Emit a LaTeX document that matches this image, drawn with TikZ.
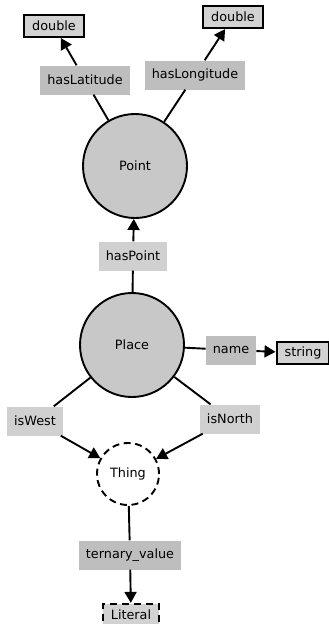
\documentclass[tikz,border=0pt]{standalone}
\usepackage{fontspec}
\setmainfont{DejaVu Sans}
\usepackage{tikz}
\usetikzlibrary{arrows.meta}
\definecolor{clsgray}{RGB}{200,200,200}
\definecolor{propdark}{RGB}{190,190,190}
\definecolor{proplight}{RGB}{208,208,208}
\definecolor{typegray}{RGB}{210,210,210}

\tikzset{
  cls/.style={circle,draw=black,line width=1.9pt,fill=clsgray,minimum size=104pt,inner sep=0pt},
  anycls/.style={circle,draw=black,dashed,dash pattern=on 7pt off 4.5pt,line width=1.9pt,fill=white,minimum size=62pt,inner sep=0pt},
  prop/.style={fill=propdark,inner xsep=7pt,minimum height=29pt},
  proplt/.style={prop,fill=proplight},
  dtype/.style={draw=black,line width=2.2pt,fill=typegray,inner xsep=8pt,minimum height=22pt},
  lit/.style={dtype,dashed,dash pattern=on 7pt off 5pt},
  link/.style={line width=1.9pt},
  tolink/.style={link,-{Triangle[width=12pt,length=11pt]}}
}

\begin{document}
\begin{tikzpicture}[x=1pt,y=-1pt,font=\fontsize{12.8}{15}\selectfont]
  \useasboundingbox (0,0) rectangle (329,624);
  % classes
  \node[cls] (point) at (135,166) {Point};
  \node[cls] (place) at (132,345) {Place};
  \node[anycls] (thing) at (128,474) {Thing};
  % datatypes
  \node[dtype] (dblLat) at (54,26) {double};
  \node[dtype] (dblLon) at (233,17) {double};
  \node[dtype] (str) at (303,353) {string};
  \node[lit] (literal) at (131,615) {Literal};
  % properties
  \node[prop] (hasLat) at (85,80) {hasLatitude};
  \node[prop] (hasLon) at (195,75) {hasLongitude};
  \node[proplt] (hasPt) at (133,256) {hasPoint};
  \node[prop] (name) at (231,350) {name};
  \node[proplt] (isW) at (35,421) {isWest};
  \node[proplt] (isN) at (230,419) {isNorth};
  \node[prop] (tern) at (130,555) {ternary\_value};
  % edges
  \draw[link] (point) -- (hasLat);
  \draw[tolink] (hasLat) -- (dblLat);
  \draw[link] (point) -- (hasLon);
  \draw[tolink] (hasLon) -- (dblLon);
  \draw[link] (place) -- (hasPt);
  \draw[tolink] (hasPt) -- (point);
  \draw[link] (place) -- (name);
  \draw[tolink] (name) -- (str);
  \draw[link] (place) -- (isW);
  \draw[tolink] (isW) -- (thing);
  \draw[link] (place) -- (isN);
  \draw[tolink] (isN) -- (thing);
  \draw[link] (thing) -- (tern);
  \draw[tolink] (tern) -- (literal);
\end{tikzpicture}
\end{document}
